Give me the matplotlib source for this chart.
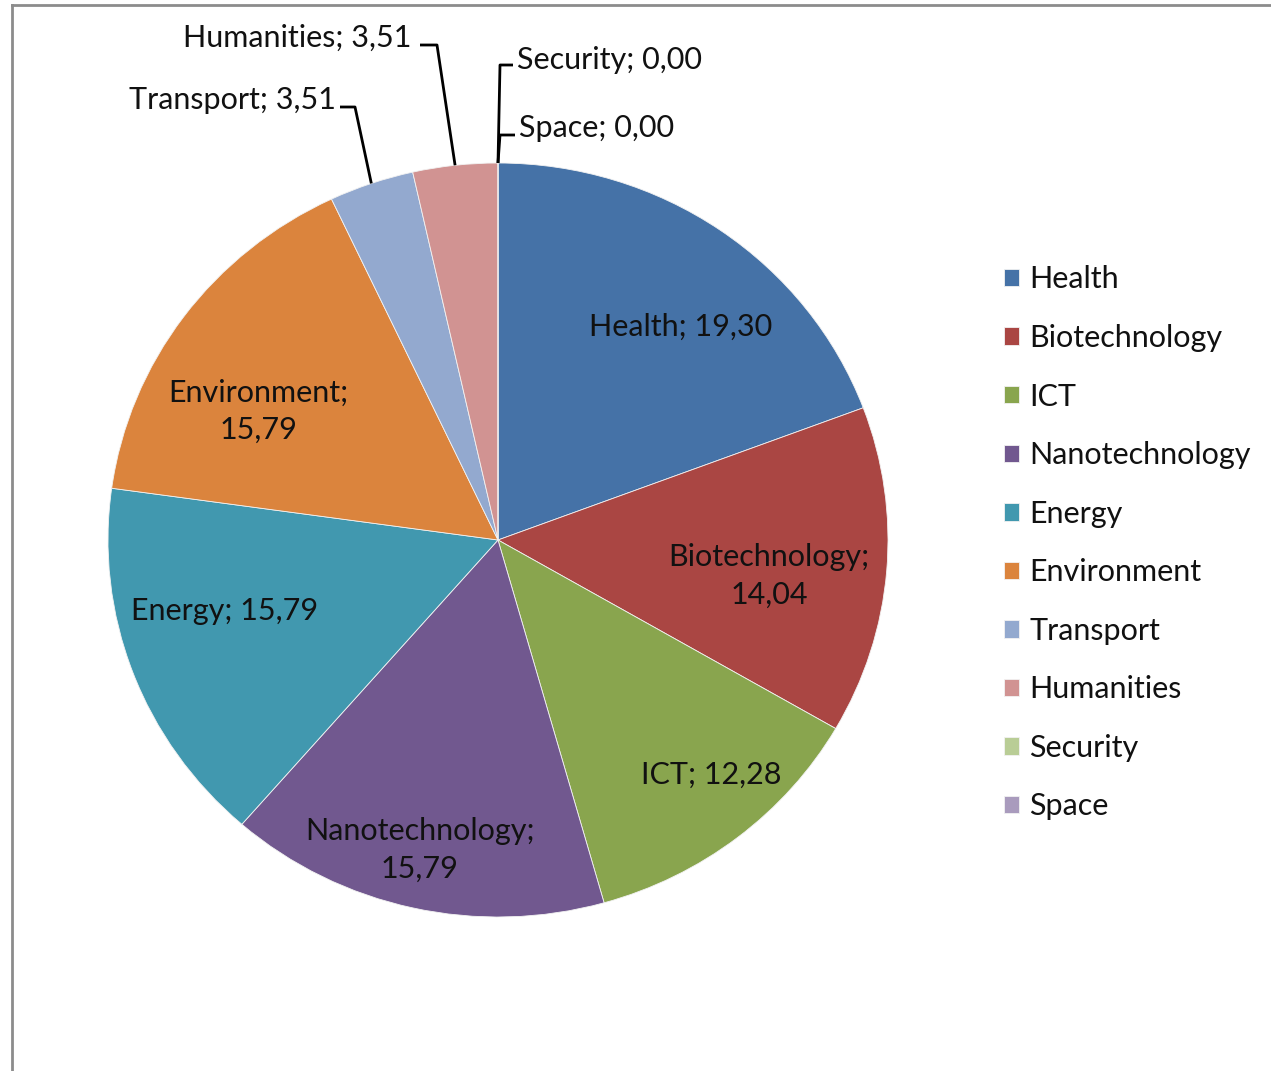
import numpy as np
import matplotlib.pyplot as plt
from matplotlib.lines import Line2D

plt.rcParams['font.family'] = ['Lato', 'DejaVu Sans']

# data
categories = ["Health", "Biotechnology", "ICT", "Nanotechnology", "Energy",
              "Environment", "Transport", "Humanities", "Security", "Space"]
values = [19.30, 14.04, 12.28, 15.79, 15.79, 15.79, 3.51, 3.51, 0.00, 0.00]
colors = ["#4572A7", "#AA4643", "#89A54E", "#71588F", "#4198AF",
          "#DB843D", "#93A9CF", "#D19392", "#B9CD96", "#A99BBD"]

W, H = 1271, 1071
fig = plt.figure(figsize=(W / 100, H / 100), dpi=100)

# pie box in pixels (slightly wider than tall, like the source)
cx, cy, rx, ry = 498, 540, 390, 377
ax = fig.add_axes([(cx - rx) / W, (H - cy - ry) / H, 2 * rx / W, 2 * ry / H])

wedges, _ = ax.pie(values, colors=colors, startangle=90, counterclock=False,
                   wedgeprops=dict(edgecolor="#f2f2f2", linewidth=0.6))
ax.set_aspect("auto")
ax.set_xlim(-1, 1)
ax.set_ylim(-1, 1)
ax.axis("off")


def px(x, y):
    # pixel position -> data coords of the pie axes
    return (x - cx) / rx, (cy - y) / ry


def fmt(v):
    return ("%.2f" % v).replace(".", ",")


fs = 22
txt_col = "#111111"

# labels inside the wedges
inside = {
    "Health": ((681, 327), "Health; {}"),
    "Biotechnology": ((769, 576), "Biotechnology;\n{}"),
    "ICT": ((711, 775), "ICT; {}"),
    "Nanotechnology": ((420, 850), "Nanotechnology;\n{}"),
    "Energy": ((225, 611), "Energy; {}"),
    "Environment": ((258, 411), "Environment;\n{}"),
}
for name, (pos, pat) in inside.items():
    v = values[categories.index(name)]
    ax.text(*px(*pos), pat.format(fmt(v)), ha="center", va="center",
            fontsize=fs, color=txt_col, linespacing=1.4)

# labels outside with leader lines
outside = {
    "Transport": dict(text=(336, 100), ha="right", elbow=[(340, 107), (355, 107)]),
    "Humanities": dict(text=(411, 38), ha="right", elbow=[(420, 45), (437, 45)]),
    "Security": dict(text=(517, 60), ha="left", elbow=[(513, 65), (500, 65)]),
    "Space": dict(text=(519, 128), ha="left", elbow=[(515, 135), (500, 135)]),
}
total = sum(values)
for name, o in outside.items():
    i = categories.index(name)
    v = values[i]
    before = sum(values[:i])
    ang = np.deg2rad(90 - 360 * (before + v / 2) / total)
    edge = (np.cos(ang), np.sin(ang))
    path = [px(*p) for p in o["elbow"]] + [edge]
    xs, ys = zip(*path)
    ax.plot(xs, ys, color="black", lw=2, clip_on=False, solid_capstyle="butt")
    ax.text(*px(*o["text"]), "%s; %s" % (name, fmt(v)), ha=o["ha"], va="center",
            fontsize=fs, color=txt_col, clip_on=False)

# legend
leg = fig.legend(wedges, categories, loc="upper left",
                 bbox_to_anchor=(976 / W, 1 - 238 / H), frameon=False,
                 fontsize=fs, handlelength=0.5, handleheight=0.5,
                 handletextpad=0.35, labelspacing=1.0, labelcolor=txt_col)

# chart area border (only top and left visible)
grey = "#8c8c8c"
fig.add_artist(Line2D([12 / W, 12 / W], [0, 1 - 5 / H], color=grey, lw=2))
fig.add_artist(Line2D([12 / W, 1], [1 - 5 / H, 1 - 5 / H], color=grey, lw=2))

fig.savefig("out.png", dpi=100)
